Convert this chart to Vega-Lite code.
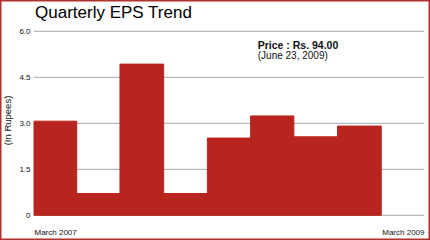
{
  "$schema": "https://vega.github.io/schema/vega-lite/v6.json",
  "width": 430,
  "height": 240,
  "autosize": {"type": "none"},
  "padding": 0,
  "background": "white",
  "title": {"text": "Quarterly EPS Trend", "anchor": "start", "dx": 35, "offset": -35, "baseline": "alphabetic", "font": "Liberation Sans", "fontSize": 17, "fontWeight": "normal", "color": "#000000"},
  "config": {"view": {"stroke": "#b3312c", "strokeWidth": 3}, "font": "Liberation Sans"},
  "layer": [
    {
      "data": {"values": [{"grid": 0}, {"grid": 1.5}, {"grid": 3}, {"grid": 4.5}, {"grid": 6}]},
      "mark": {"type": "rule", "color": "#a8a8a8", "strokeWidth": 1},
      "encoding": {
        "y": {"field": "grid", "type": "quantitative", "title": "(In Rupees)",
          "scale": {"domain": [-0.805, 7.021], "nice": false, "zero": false},
          "axis": {"orient": "left", "offset": -34, "values": [0, 1.5, 3, 4.5, 6], "labelExpr": "datum.value == 0 ? '0' : format(datum.value, '.1f')", "ticks": false, "domain": false, "grid": false, "labelPadding": 4, "labelFontSize": 8, "labelColor": "#111111", "titleFontSize": 9.5, "titleFontWeight": "normal", "titleColor": "#111111", "titlePadding": 6}},
        "x": {"datum": {"year": 2007, "month": 1, "date": 1, "utc": true}, "type": "temporal", "title": null,
          "scale": {"type": "utc", "domain": [{"year": 2006, "month": 10, "date": 21, "hours": 10, "utc": true}, {"year": 2009, "month": 4, "date": 13, "hours": 15, "utc": true}], "nice": false},
          "axis": {"orient": "bottom", "offset": -14, "values": [{"year": 2007, "month": 1, "date": 1, "utc": true}, {"year": 2009, "month": 4, "date": 1, "utc": true}], "labelExpr": "utcyear(datum.value) == 2007 ? 'March 2007' : 'March 2009'", "labelAlign": {"condition": {"test": "utcyear(datum.value) == 2007", "value": "left"}, "value": "right"}, "labelOverlap": false, "labelBound": false, "labelFlush": false, "ticks": false, "domain": false, "grid": false, "labelPadding": 2, "labelFontSize": 8, "labelColor": "#111111"}},
        "x2": {"datum": {"year": 2009, "month": 4, "date": 1, "utc": true}}
      }
    },
    {
      "data": {"values": [
        {"start": "2007-01-01", "end": "2007-04-01", "eps": 3.07},
        {"start": "2007-04-01", "end": "2007-07-01", "eps": 0.71},
        {"start": "2007-07-01", "end": "2007-10-01", "eps": 4.93},
        {"start": "2007-10-01", "end": "2008-01-01", "eps": 0.71},
        {"start": "2008-01-01", "end": "2008-04-01", "eps": 2.52},
        {"start": "2008-04-01", "end": "2008-07-01", "eps": 3.24},
        {"start": "2008-07-01", "end": "2008-10-01", "eps": 2.56},
        {"start": "2008-10-01", "end": "2009-01-01", "eps": 2.91}
      ]},
      "mark": {"type": "bar", "color": "#b8251f", "stroke": "#b8251f", "strokeWidth": 1},
      "encoding": {
        "x": {"field": "start", "type": "temporal", "title": null,
          "scale": {"type": "utc", "domain": [{"year": 2006, "month": 10, "date": 21, "hours": 10, "utc": true}, {"year": 2009, "month": 4, "date": 13, "hours": 15, "utc": true}], "nice": false}},
        "x2": {"field": "end"},
        "y": {"field": "eps", "type": "quantitative", "title": "(In Rupees)",
          "scale": {"domain": [-0.805, 7.021], "nice": false, "zero": false}},
        "y2": {"datum": 0}
      }
    },
    {
      "data": {"values": [{"price_label": "Price : Rs. 94.00", "price_date": "(June 23, 2009)"}]},
      "layer": [
        {
          "mark": {"type": "text", "align": "left", "baseline": "alphabetic", "fontSize": 10.5, "fontWeight": "bold", "color": "#111111", "dy": 2},
          "encoding": {"text": {"field": "price_label"}}
        },
        {
          "mark": {"type": "text", "align": "left", "baseline": "alphabetic", "fontSize": 10, "dy": 12, "color": "#111111"},
          "encoding": {"text": {"field": "price_date"}}
        }
      ],
      "encoding": {
        "x": {"datum": {"year": 2008, "month": 4, "date": 16, "utc": true}, "type": "temporal", "title": null,
          "scale": {"type": "utc", "domain": [{"year": 2006, "month": 10, "date": 21, "hours": 10, "utc": true}, {"year": 2009, "month": 4, "date": 13, "hours": 15, "utc": true}], "nice": false}},
        "y": {"datum": 5.5, "type": "quantitative", "title": "(In Rupees)",
          "scale": {"domain": [-0.805, 7.021], "nice": false, "zero": false}}
      }
    }
  ]
}
